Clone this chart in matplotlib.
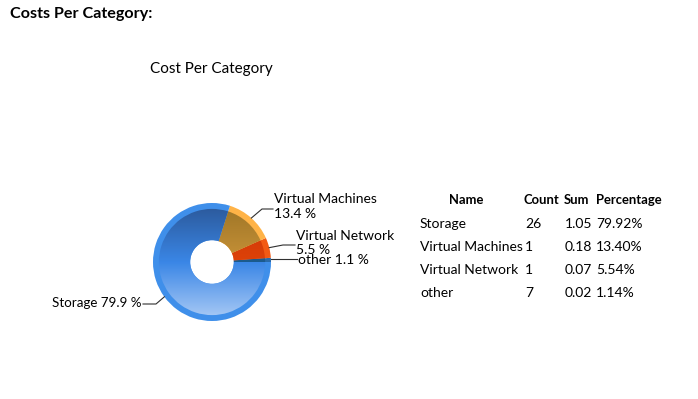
import numpy as np
import matplotlib
matplotlib.use("Agg")
import matplotlib.pyplot as plt
from matplotlib.colors import LinearSegmentedColormap

# ---- data ----
names = ["Storage", "Virtual Machines", "Virtual Network", "other"]
counts = [26, 1, 1, 7]
sums = [1.05, 0.18, 0.07, 0.02]
percentages = [79.92, 13.40, 5.54, 1.14]

page_title = "Costs Per Category:"
chart_title = "Cost Per Category"
table_headers = ["Name", "Count", "Sum", "Percentage"]

# ---- style ----
FONT = ["Lato", "DejaVu Sans"]
plt.rcParams["font.family"] = FONT
W, H = 698, 399
fig = plt.figure(figsize=(W / 100, H / 100), dpi=100)
ax = fig.add_axes([0, 0, 1, 1])

def Y(y):  # pixel-from-top -> data y
    return H - y

cx, cy, R = 212, Y(262), 59
hole = 0.37
rim = 0.10

grad = {
    "Storage": ["#2b5797", "#3a86e6", "#aecdf6"],
    "Virtual Machines": ["#9c7426", "#c89238", "#f2b446"],
    "Virtual Network": ["#c83408", "#de4208", "#f05010"],
    "other": ["#17507e", "#1c5c8e", "#2068a0"],
}
rimc = {
    "Storage": "#3f8fea",
    "Virtual Machines": "#ffb347",
    "Virtual Network": "#f25a14",
    "other": "#2a6aa8",
}

order = names[::-1]
vals = percentages[::-1]

rim_w, _ = ax.pie(vals, startangle=0, counterclock=True, radius=R, center=(cx, cy),
                  colors=[rimc[n] for n in order],
                  wedgeprops=dict(width=R * (1 - hole), linewidth=0))
in_w, _ = ax.pie(vals, startangle=0, counterclock=True, radius=R * (1 - rim), center=(cx, cy),
                 colors=["none"] * len(order),
                 wedgeprops=dict(width=R * (1 - rim - hole), linewidth=0))
grad_arr = np.linspace(0, 1, 256).reshape(-1, 1)
for w, n in zip(in_w, order):
    cmap = LinearSegmentedColormap.from_list(n, grad[n])
    im = ax.imshow(grad_arr, cmap=cmap, aspect="auto", origin="upper",
                   extent=[cx - R, cx + R, cy - R, cy + R], zorder=2)
    im.set_clip_path(w)

ax.set_xlim(0, W)
ax.set_ylim(0, H)
ax.axis("off")

fs = 10.0
cum = np.cumsum([0] + vals)
mids = {n: np.deg2rad((cum[i] + cum[i + 1]) / 2 * 3.6) for i, n in enumerate(order)}
def edge(n):
    a = mids[n]
    return cx + R * np.cos(a), cy + R * np.sin(a)

lc = "#303030"
x0, y0 = edge("Virtual Machines")
ax.plot([x0, 262, 273], [y0, Y(209), Y(209)], color=lc, lw=0.8, zorder=3)
ax.text(274, Y(206.5), f"Virtual Machines\n{percentages[1]:.1f} %", fontsize=fs,
        ha="left", va="center", linespacing=1.25)
x0, y0 = edge("Virtual Network")
ax.plot([x0, 283, 295], [y0, Y(245), Y(245)], color=lc, lw=0.8, zorder=3)
ax.text(296, Y(243), f"Virtual Network\n{percentages[2]:.1f} %", fontsize=fs,
        ha="left", va="center", linespacing=1.25)
x0, y0 = edge("other")
ax.plot([x0, 297], [Y(259), Y(259)], color=lc, lw=0.8, zorder=3)
ax.text(298, Y(259.5), f"other {percentages[3]:.1f} %", fontsize=fs, ha="left", va="center")
x0, y0 = edge("Storage")
ax.plot([x0, 156, 143], [y0, Y(304), Y(304)], color=lc, lw=0.8, zorder=3)
ax.text(141, Y(303), f"Storage {percentages[0]:.1f} %", fontsize=9.6, ha="right", va="center")

ax.text(10, Y(14), page_title, fontsize=11.6, fontweight="bold", ha="left", va="center")
ax.text(150, Y(69), chart_title, fontsize=11.0, ha="left", va="center")

hfs = 9.4
hy = Y(200)
ax.text(466, hy, table_headers[0], fontsize=hfs, fontweight="bold", ha="center", va="center")
ax.text(524, hy, table_headers[1], fontsize=hfs, fontweight="bold", ha="left", va="center")
ax.text(564, hy, table_headers[2], fontsize=hfs, fontweight="bold", ha="left", va="center")
ax.text(596, hy, table_headers[3], fontsize=hfs, fontweight="bold", ha="left", va="center")
for i, (n, c, s, p) in enumerate(zip(names, counts, sums, percentages)):
    y = Y(224 + 23 * i)
    ax.text(420, y, n, fontsize=fs, ha="left", va="center")
    ax.text(525, y, f"{c}", fontsize=fs, ha="left", va="center")
    ax.text(592, y, f"{s:.2f}", fontsize=fs, ha="right", va="center")
    ax.text(596, y, f"{p:.2f}%", fontsize=fs, ha="left", va="center")

fig.savefig("out.png", dpi=100)
